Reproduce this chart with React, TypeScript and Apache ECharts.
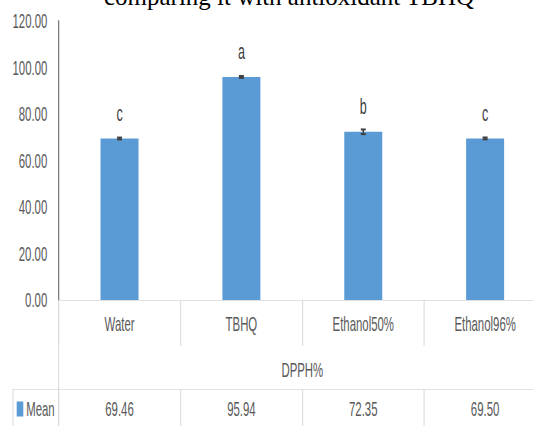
import React, { useEffect, useRef } from "react";
import * as echarts from "echarts";

const categories = ["Water", "TBHQ", "Ethanol50%", "Ethanol96%"];
const means = [69.46, 95.94, 72.35, 69.5];
const errors = [0.4, 0.4, 1.0, 0.4];
const letters = ["c", "a", "b", "c"];
const yTicks = { min: 0, max: 120, interval: 20 };
const groupName = "DPPH%";
const seriesName = "Mean";
const titleText = "comparing it with antioxidant TBHQ";

// The reference's sans text is horizontally condensed; the chart is drawn wider
// and squeezed by a CSS scaleX so the text matches.
const S = 0.57;
const W = 533;
const H = 426;
const PLOT_RIGHT = 546; // the plot runs past the right edge of the picture
const u = (px: number) => px / S;

const FONT = "'Liberation Sans', Arial, sans-serif";
const GRID = "#d9d9d9";
const TXT = "#595959";

export default function App() {
  const ref = useRef<HTMLDivElement>(null);
  useEffect(() => {
    if (!ref.current) return;
    const chart = echarts.init(ref.current, undefined, { renderer: "svg" });
    chart.setOption({
      animation: false,
      backgroundColor: "#ffffff",
      grid: { left: u(58.6), right: 0, top: 21, bottom: H - 300 },
      legend: {
        data: [seriesName],
        left: u(16.7),
        top: 399,
        padding: 0,
        icon: "rect",
        itemWidth: u(6.6),
        itemHeight: 15,
        textStyle: { fontFamily: FONT, fontSize: 20, color: TXT },
      },
      xAxis: [
        {
          type: "category",
          data: categories,
          position: "bottom",
          axisLine: { show: true, lineStyle: { color: GRID, width: 1 } },
          axisTick: { show: true, length: 46, lineStyle: { color: GRID, width: u(1) } },
          axisLabel: { fontFamily: FONT, fontSize: 20, color: TXT, margin: 14 },
          name: groupName,
          nameLocation: "middle",
          nameGap: 60,
          nameTextStyle: { fontFamily: FONT, fontSize: 20, color: TXT },
        },
        {
          type: "category",
          data: categories,
          position: "bottom",
          offset: 89,
          axisLine: { show: true, lineStyle: { color: GRID, width: 1 } },
          axisTick: { show: true, length: 40, lineStyle: { color: GRID, width: u(1) } },
          axisLabel: {
            fontFamily: FONT,
            fontSize: 20,
            color: TXT,
            margin: 10,
            formatter: (_v: string, i: number) => means[i].toFixed(2),
          },
        },
      ],
      yAxis: {
        type: "value",
        min: yTicks.min,
        max: yTicks.max,
        interval: yTicks.interval,
        axisLine: { show: true, lineStyle: { color: "#595959", width: u(1) } },
        axisTick: { show: false },
        splitLine: { show: false },
        axisLabel: {
          fontFamily: FONT,
          fontSize: 20,
          color: TXT,
          margin: u(11.3),
          formatter: (v: number) => v.toFixed(2),
        },
      },
      series: [
        {
          name: seriesName,
          type: "bar",
          data: means,
          barWidth: u(38),
          itemStyle: { color: "#5B9BD5" },
          label: {
            show: true,
            position: "top",
            distance: 14,
            fontFamily: FONT,
            fontSize: 22,
            color: "#404040",
            formatter: (p: any) => letters[p.dataIndex],
          },
        },
        {
          name: "err",
          type: "custom",
          data: categories.map((_, i) => [i, means[i], errors[i]]),
          z: 5,
          renderItem: (_params: any, api: any) => {
            const x = api.value(0);
            const m = api.value(1);
            const e = api.value(2);
            const top = api.coord([x, m + e]);
            const bot = api.coord([x, m - e]);
            const hw = u(2.5);
            const vStyle = { stroke: "#404040", lineWidth: u(1.5) };
            const hStyle = { stroke: "#404040", lineWidth: 2 };
            return {
              type: "group",
              children: [
                { type: "line", shape: { x1: top[0], y1: top[1], x2: bot[0], y2: bot[1] }, style: vStyle },
                { type: "line", shape: { x1: top[0] - hw, y1: top[1], x2: top[0] + hw, y2: top[1] }, style: hStyle },
                { type: "line", shape: { x1: bot[0] - hw, y1: bot[1], x2: bot[0] + hw, y2: bot[1] }, style: hStyle },
              ],
            };
          },
        },
      ],
      graphic: [
        {
          type: "text",
          x: u(289),
          y: -3.5,
          scaleX: 1 / S,
          style: {
            text: titleText,
            fontFamily: "'Liberation Serif', 'Times New Roman', serif",
            fontSize: 25,
            fill: "#000000",
            align: "center",
            verticalAlign: "middle",
          },
        },
        { type: "line", shape: { x1: u(58.6), y1: 300, x2: u(58.6), y2: H }, style: { stroke: GRID, lineWidth: u(1) } },
        { type: "line", shape: { x1: u(12.7), y1: 389.5, x2: u(58.6), y2: 389.5 }, style: { stroke: GRID, lineWidth: 1 } },
        { type: "line", shape: { x1: u(13), y1: 389, x2: u(13), y2: H }, style: { stroke: GRID, lineWidth: u(1) } },
      ],
    });
    return () => chart.dispose();
  }, []);
  return (
    <div style={{ position: "absolute", left: 0, top: 0, width: W, height: H, overflow: "hidden", background: "#fff" }}>
      <div
        ref={ref}
        style={{
          width: u(PLOT_RIGHT),
          height: H,
          transform: `scaleX(${S})`,
          transformOrigin: "0 0",
        }}
      />
    </div>
  );
}
